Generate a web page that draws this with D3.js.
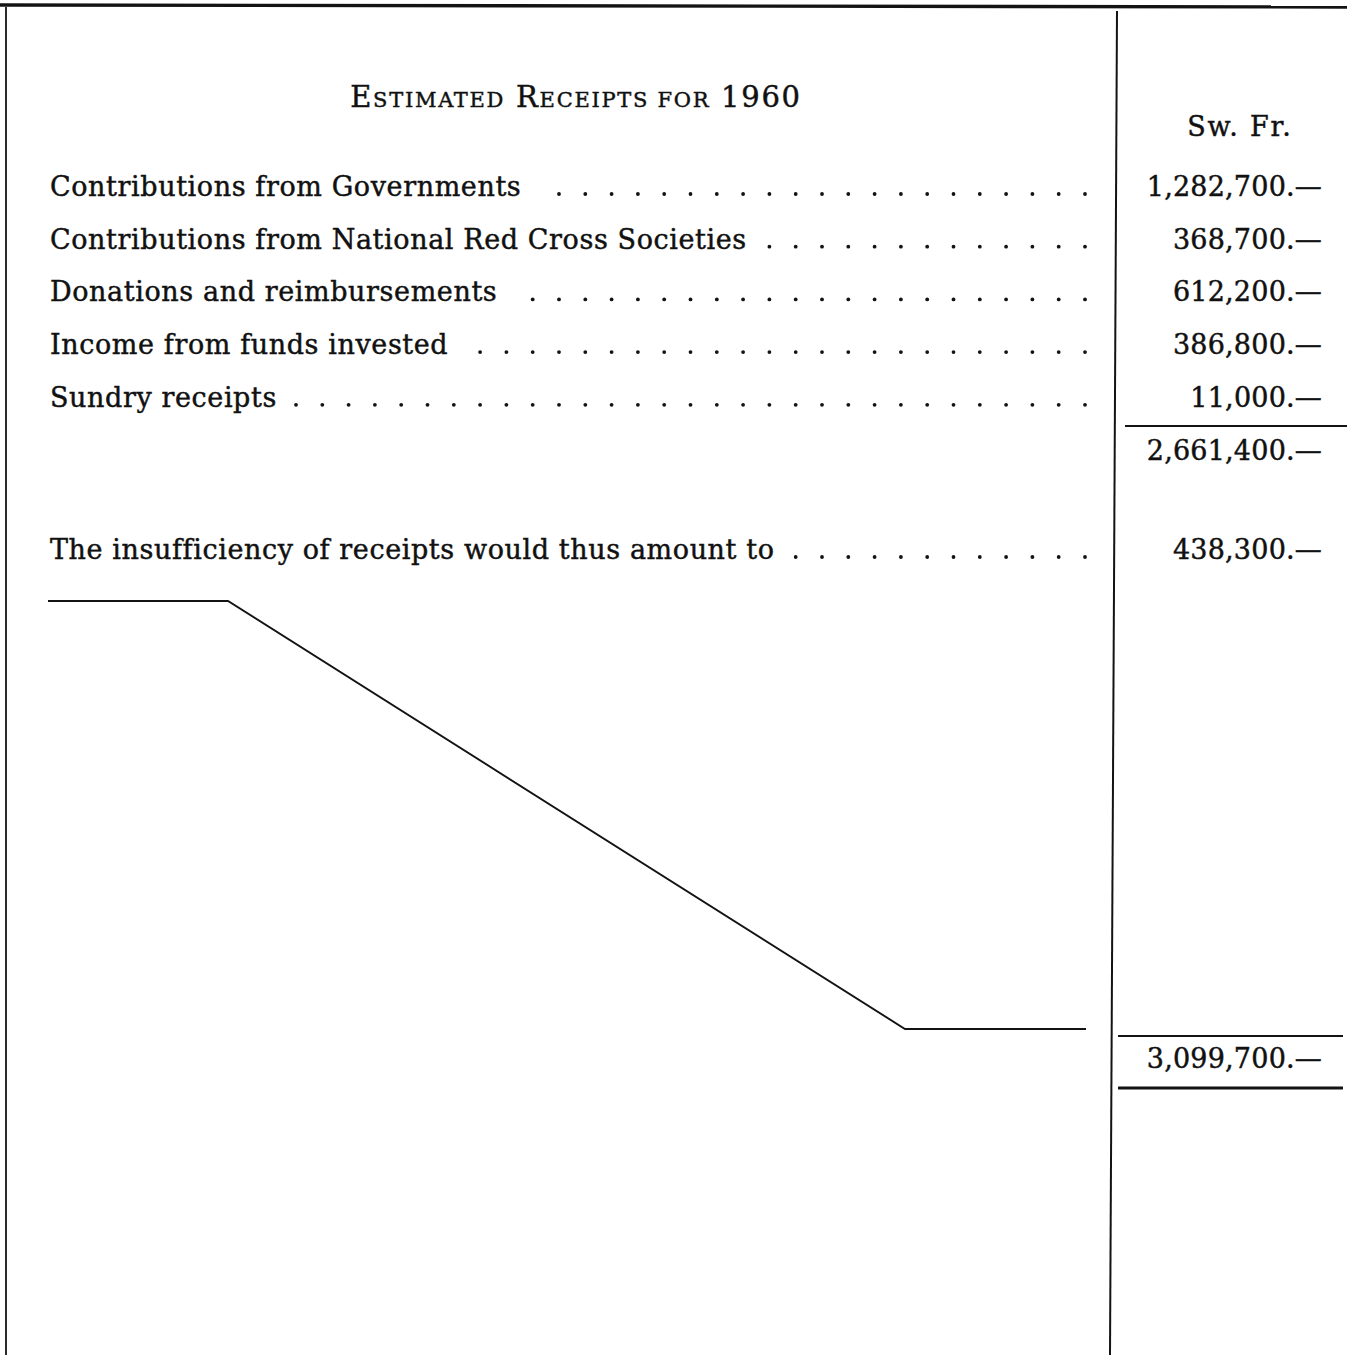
<!DOCTYPE html>
<html>
<head>
<meta charset="utf-8">
<script src="https://cdn.jsdelivr.net/npm/d3@7"></script>
<style>
  body { margin: 0; background: #fff; }
  svg text { font-family: "DejaVu Serif", serif; fill: #111; stroke: #111; stroke-width: 0.45px; }
</style>
</head>
<body>
<svg id="chart" width="1347" height="1355"></svg>
<script>
// Receipts table data
const title = "Estimated Receipts for 1960";
const unitLabel = "Sw. Fr.";
const categories = [
    "Contributions from Governments",
    "Contributions from National Red Cross Societies",
    "Donations and reimbursements",
    "Income from funds invested",
    "Sundry receipts"
];
const amounts = [1282700, 368700, 612200, 386800, 11000];
const subtotal = 2661400;
const shortfallLabel = "The insufficiency of receipts would thus amount to";
const shortfall = 438300;
const grandTotal = 3099700;

const svg = d3.select('#chart');
const W = 1347, H = 1355;
const ink = '#131313';

// Row positions (baselines)
const y = d3.scaleLinear().domain([0, 1]).range([196, 248.7]);
const colDivTop = 1117, colDivBottom = 1110;
const amountRight = 1322;
const labelLeft = 50;
const dotEnd = 1085, dotStep = 26.3;

const fmt = v => d3.format(",")(v) + ".\u2014";

// Frame lines
svg.append('line').attr('x1', 0).attr('y1', 5).attr('x2', W).attr('y2', 7)
    .attr('stroke', ink).attr('stroke-width', 3.4);
svg.append('line').attr('x1', 6).attr('y1', 7).attr('x2', 6).attr('y2', H)
    .attr('stroke', ink).attr('stroke-width', 1.8);
svg.append('line').attr('x1', colDivTop).attr('y1', 11).attr('x2', colDivBottom).attr('y2', H)
    .attr('stroke', ink).attr('stroke-width', 2);

// Title in small caps
const t = svg.append('text').attr('x', 576).attr('y', 107).attr('text-anchor', 'middle');
title.split(' ').forEach((word, wi) => {
    const small = word === 'for';
    [...word].forEach((ch, ci) => {
        const isCap = !small && (ci === 0 || /[0-9]/.test(ch));
        t.append('tspan')
            .attr('font-size', isCap ? 29 : 21)
            .attr('letter-spacing', 1.7)
            .text((ci === 0 && wi > 0 ? '\u00a0' : '') + ch.toUpperCase());
    });
});

svg.append('text').attr('x', 1240).attr('y', 136).attr('text-anchor', 'middle')
    .attr('font-size', 27).attr('letter-spacing', 1.8).text(unitLabel);

// Label rows with leader dots
function labelRow(label, yy) {
    const txt = svg.append('text').attr('x', labelLeft).attr('y', yy)
        .attr('font-size', 27).attr('letter-spacing', 0.6).text(label);
    const end = labelLeft + txt.node().getComputedTextLength();
    const dots = d3.range(dotEnd, end + 14, -dotStep);
    svg.append('g').selectAll('circle').data(dots).join('circle')
        .attr('cx', d => d).attr('cy', yy - 2).attr('r', 1.9).attr('fill', ink);
}
function amountText(v, yy) {
    svg.append('text').attr('x', amountRight).attr('y', yy).attr('text-anchor', 'end')
        .attr('font-size', 27).attr('letter-spacing', 0.2).text(fmt(v));
}

categories.forEach((c, i) => {
    labelRow(c, y(i));
    amountText(amounts[i], y(i));
});

// Subtotal rule and value
svg.append('line').attr('x1', 1125).attr('y1', 426).attr('x2', W).attr('y2', 426)
    .attr('stroke', ink).attr('stroke-width', 2);
amountText(subtotal, y(categories.length));

labelRow(shortfallLabel, 559);
amountText(shortfall, 559);

// Diagonal filler line
const filler = [[48, 601], [228, 601], [905, 1029], [1086, 1029]];
svg.append('path').attr('d', d3.line()(filler)).attr('fill', 'none')
    .attr('stroke', ink).attr('stroke-width', 1.9);

// Grand total with rules
svg.append('line').attr('x1', 1118).attr('y1', 1036).attr('x2', 1343).attr('y2', 1036)
    .attr('stroke', ink).attr('stroke-width', 2);
amountText(grandTotal, 1068);
svg.append('line').attr('x1', 1118).attr('y1', 1088).attr('x2', 1343).attr('y2', 1088)
    .attr('stroke', ink).attr('stroke-width', 2.8);
</script>
</body>
</html>
